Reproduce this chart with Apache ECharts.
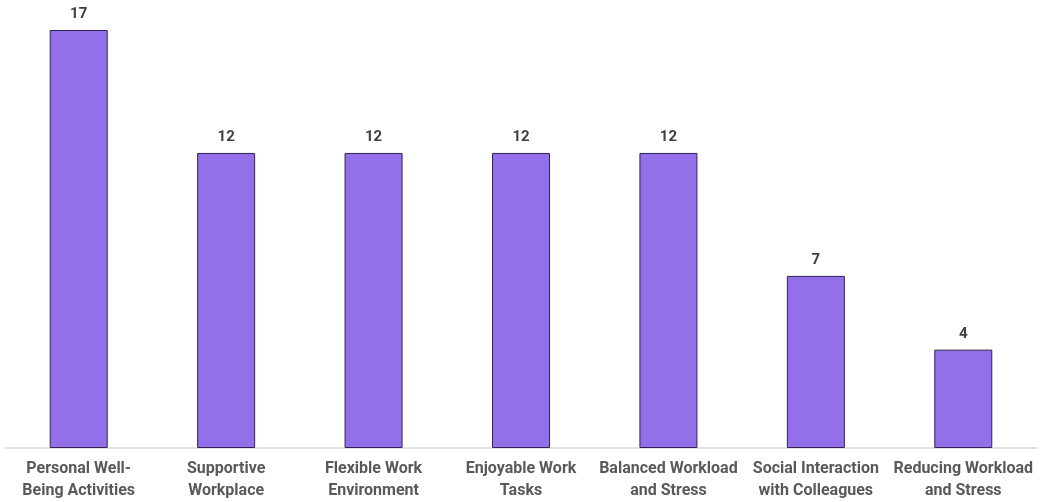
<!DOCTYPE html>
<html>
<head>
<meta charset="utf-8">
<script src="https://cdn.jsdelivr.net/npm/echarts@6/dist/echarts.min.js"></script>
<style>html,body{margin:0;padding:0;background:#fff;}#c{width:1044px;height:502px;}</style>
</head>
<body>
<div id="c"></div>
<script>
const categories = [
  "Personal Well-\nBeing Activities",
  "Supportive\nWorkplace",
  "Flexible Work\nEnvironment",
  "Enjoyable Work\nTasks",
  "Balanced Workload\nand Stress",
  "Social Interaction\nwith Colleagues",
  "Reducing Workload\nand Stress"
];
const values = [17, 12, 12, 12, 12, 7, 4];

const chart = echarts.init(document.getElementById('c'));
chart.setOption({
  animation: false,
  grid: { left: 5, right: 7, top: 30, bottom: 53, containLabel: false },
  xAxis: {
    type: 'category',
    data: categories,
    axisLine: { lineStyle: { color: '#d9d9d9', width: 1.5 } },
    axisTick: { show: false },
    axisLabel: {
      interval: 0,
      margin: 10,
      color: '#595959',
      fontFamily: 'Roboto',
      fontWeight: 'bold',
      fontSize: 16,
      lineHeight: 22
    }
  },
  yAxis: {
    type: 'value',
    min: 0,
    max: 17,
    show: false,
    splitLine: { show: false }
  },
  series: [{
    type: 'bar',
    data: values,
    barWidth: 58,
    itemStyle: { color: '#9370EA', borderColor: '#2e2353', borderWidth: 1 },
    label: {
      show: true,
      position: 'top',
      distance: 8,
      color: '#404040',
      fontFamily: 'Roboto',
      fontWeight: 'bold',
      fontSize: 15
    }
  }]
});
</script>
</body>
</html>
